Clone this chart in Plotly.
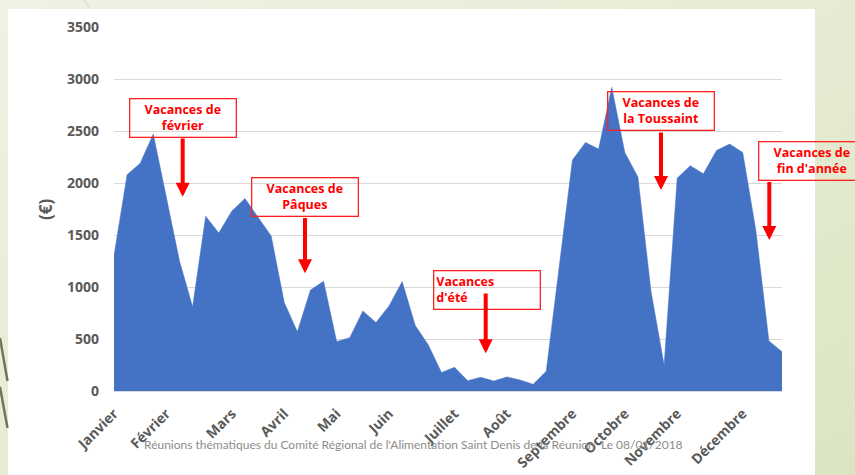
import base64
import plotly.graph_objects as go

# ---- data ----
weeks = list(range(52))
values = [1300, 2080, 2190, 2470, 1860, 1250, 810, 1680, 1520, 1730,
          1850, 1665, 1490, 850, 570, 970, 1055, 475, 513, 770,
          658, 818, 1052, 629, 443, 177, 228, 99, 132, 96,
          135, 106, 64, 190, 1210, 2220, 2390, 2326, 2920, 2294,
          2057, 956, 250, 2047, 2165, 2088, 2313, 2374, 2294, 1549,
          481, 378]
month_weeks = [0, 4, 9, 13, 17, 21, 26, 30, 35, 39, 43, 48]
month_labels = ["Janvier", "Février", "Mars", "Avril", "Mai", "Juin",
                "Juillet", "Août", "Septembre", "Octobre", "Novembre", "Décembre"]
y_ticks = [0, 500, 1000, 1500, 2000, 2500, 3000, 3500]
holiday_labels = ["Vacances de<br>février", "Vacances de<br>Pâques",
                  "Vacances<br>d'été", "Vacances de<br>la Toussaint",
                  "Vacances de<br>fin d'année"]
footer = "Réunions thématiques du Comité Régional de l'Alimentation Saint Denis de la Réunion\u00a0 Le 08/01/2018"

# ---- layout geometry (pixels) ----
W, H = 855, 475
L, R, T, B = 114, 782, 27, 391


def px(xp):
    return (xp - L) / (R - L)


def py(yp):
    return (B - yp) / (B - T)


# soft green gradient background (slide background)
svg = (
    '<svg xmlns="http://www.w3.org/2000/svg" width="855" height="475" '
    'viewBox="0 0 855 475" preserveAspectRatio="none">'
    '<defs><linearGradient id="g" x1="0" y1="0" x2="1" y2="1">'
    '<stop offset="0" stop-color="#eff2e4"/>'
    '<stop offset="0.55" stop-color="#e5ebd2"/>'
    '<stop offset="1" stop-color="#dbe5c2"/>'
    '</linearGradient></defs>'
    '<rect width="855" height="475" fill="url(#g)"/></svg>'
)
bg_src = "data:image/svg+xml;base64," + base64.b64encode(svg.encode()).decode()

fig = go.Figure()
fig.add_trace(go.Scatter(
    x=weeks, y=values, mode="lines", fill="tozeroy",
    line=dict(color="#4472C4", width=0.5), fillcolor="#4472C4",
    hoverinfo="skip", showlegend=False))

shapes = [
    dict(type="rect", xref="paper", yref="paper", layer="below",
         x0=px(8), x1=px(815), y0=py(9), y1=py(480),
         fillcolor="white", line=dict(width=0)),
    dict(type="line", xref="paper", yref="paper", layer="below",
         x0=px(0), y0=py(338), x1=px(7.5), y1=py(381),
         line=dict(color="#7a7258", width=2.5)),
    dict(type="line", xref="paper", yref="paper", layer="below",
         x0=px(0), y0=py(387), x1=px(7.5), y1=py(428),
         line=dict(color="#7a7258", width=2.5)),
    dict(type="line", xref="paper", yref="paper", layer="below",
         x0=px(84), y0=py(0), x1=px(90), y1=py(8),
         line=dict(color="#cfd6bd", width=1)),
]

annotations = []
# holiday boxes: (center x, center y, align)
boxes = [(183.3, 118.2, "center"), (305, 197, "center"), (486.7, 289.5, "left"),
         (660.8, 111.5, "center"), (812, 161, "center")]
for (cx, cy, al), txt in zip(boxes, holiday_labels):
    annotations.append(dict(
        xref="paper", yref="paper", x=px(cx), y=py(cy), text=txt,
        showarrow=False, align=al, width=101, height=33, borderpad=2,
        bordercolor="#ff2020", borderwidth=1.3, bgcolor="rgba(0,0,0,0)",
        font=dict(family="Open Sans", size=12.5, color="#ff0000", weight="bold"),
        xanchor="center", yanchor="middle"))
# arrows: (x, tip y, tail y)
arrows = [(182.7, 196.7, 137), (305, 273.3, 216.5), (485.7, 353.3, 292),
          (661, 190, 131), (769.3, 240, 180.5)]
for ax_, tip, tail in arrows:
    annotations.append(dict(
        xref="paper", yref="paper", x=px(ax_), y=py(tip), text="",
        showarrow=True, arrowhead=2, arrowsize=0.7, arrowwidth=4,
        arrowcolor="#ff0000", ax=0, ay=tail - tip, standoff=0))
# y title
annotations.append(dict(
    xref="paper", yref="paper", x=px(45), y=py(210), text="(€)", textangle=-90,
    showarrow=False, font=dict(family="Open Sans", size=17, color="#595959", weight="bold"),
    xanchor="center", yanchor="middle"))
# footer
annotations.append(dict(
    xref="paper", yref="paper", x=px(413), y=py(445), text=footer,
    showarrow=False, font=dict(family="Lato", size=12, color="#8c8c8c"),
    xanchor="center", yanchor="middle"))

fig.update_layout(
    width=W, height=H,
    margin=dict(l=L, r=W - R, t=T, b=H - B),
    paper_bgcolor="#e3eacd", plot_bgcolor="rgba(0,0,0,0)",
    images=[dict(source=bg_src, xref="paper", yref="paper",
                 x=px(0), y=py(0), sizex=px(W) - px(0), sizey=py(0) - py(H),
                 xanchor="left", yanchor="top", sizing="stretch", layer="below")],
    shapes=shapes, annotations=annotations, showlegend=False,
    xaxis=dict(range=[0, 51], tickmode="array", tickvals=month_weeks,
               ticktext=month_labels, tickangle=-45, showgrid=False,
               zeroline=False, showline=True, linecolor="#d9d9d9", linewidth=1,
               ticks="", ticklabelstandoff=8, automargin=False,
               tickfont=dict(family="Open Sans", size=14, color="#595959", weight="bold")),
    yaxis=dict(range=[0, 3500], tickvals=y_ticks, showgrid=True,
               gridcolor="#d9d9d9", gridwidth=1, zeroline=False, ticks="",
               ticklabelstandoff=14, automargin=False,
               tickfont=dict(family="Open Sans", size=14, color="#595959", weight="bold")),
)

fig.write_html("out.html")
